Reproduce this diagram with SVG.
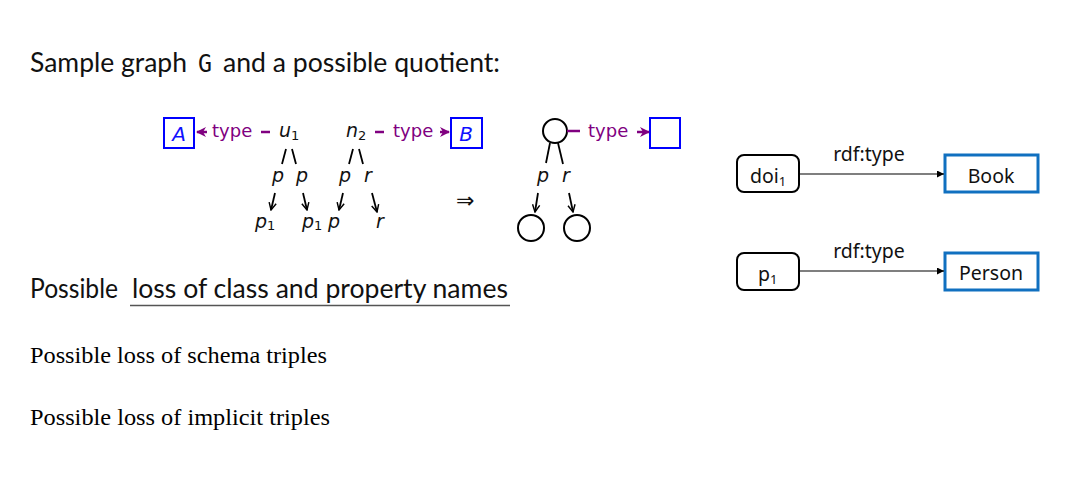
<svg xmlns="http://www.w3.org/2000/svg" width="1078" height="491" viewBox="0 0 1078 491">
<style>
.h{font-family:Lato,"DejaVu Sans",sans-serif;fill:#111}
.ser{font-family:"Liberation Serif",serif;font-size:24px;fill:#000}
.m{font-family:"DejaVu Sans",sans-serif;font-size:19px;font-style:italic;fill:#111}
.sub{font-style:normal;font-size:13px}
.pt{font-family:"DejaVu Sans",sans-serif;font-size:18px;fill:#800080}
.cls{fill:#fff;stroke:#0000ff;stroke-width:2}
.ci{fill:#fff;stroke:#000;stroke-width:2}
.bl{font-family:"DejaVu Sans",sans-serif;font-size:20px;font-style:italic;fill:#1010ff}
.pl{stroke:#800080;stroke-width:2.5;fill:none}
.kl{stroke:#000;stroke-width:1.8;fill:none}
.rt{font-family:"Noto Sans","Open Sans",sans-serif;font-size:19.5px;fill:#111}
.rn{fill:#fff;stroke:#000;stroke-width:2}
.rc{fill:#fff;stroke:#1070c0;stroke-width:3}
</style>
<defs>
<marker id="pa" viewBox="0 0 10 10" refX="9" refY="5" markerWidth="4" markerHeight="4" orient="auto"><path d="M0,0 L10,5 L0,10 L3,5 Z" fill="#800080"/></marker>
<marker id="ka" viewBox="0 0 10 10" refX="9" refY="5" markerWidth="5" markerHeight="5" orient="auto" markerUnits="strokeWidth"><path d="M1,1 L9,5 L1,9" fill="none" stroke="#000" stroke-width="1.6"/></marker>
<marker id="ta" viewBox="0 0 10 10" refX="10" refY="5" markerWidth="9" markerHeight="7" orient="auto" markerUnits="userSpaceOnUse"><path d="M0,0 L10,5 L0,10 Z" fill="#000"/></marker>
</defs>

<g id="texts">
<text class="h" font-size="27" x="30" y="72" textLength="157" lengthAdjust="spacingAndGlyphs">Sample graph</text>
<text font-family="DejaVu Sans Mono,monospace" font-size="25" x="198" y="72" fill="#111" textLength="14" lengthAdjust="spacingAndGlyphs">G</text>
<text class="h" font-size="27" x="223" y="72" textLength="277" lengthAdjust="spacingAndGlyphs">and a possible quotient:</text>
<text class="h" font-size="27" x="30" y="298" textLength="88" lengthAdjust="spacingAndGlyphs">Possible</text>
<text class="h" font-size="27" x="132" y="298" textLength="376" lengthAdjust="spacingAndGlyphs">loss of class and property names</text>
<line x1="130" y1="305.5" x2="510" y2="305.5" stroke="#555" stroke-width="1.3"/>
<text class="ser" x="30" y="363" textLength="297" lengthAdjust="spacingAndGlyphs">Possible loss of schema triples</text>
<text class="ser" x="30" y="425" textLength="300" lengthAdjust="spacingAndGlyphs">Possible loss of implicit triples</text>
<text class="h" font-size="22" x="456" y="208" fill="#444">⇒</text>
</g>

<g id="nodeA"><rect class="cls" x="164" y="118" width="30" height="30"/><text class="bl" x="179" y="141" text-anchor="middle">A</text></g>
<g id="nodeB"><rect class="cls" x="451" y="118" width="31" height="30"/><text class="bl" x="466" y="141" text-anchor="middle">B</text></g>
<g id="nodeU1"><text class="m" x="279" y="137">u<tspan class="sub" dy="3">1</tspan></text></g>
<g id="nodeN2"><text class="m" x="346" y="137">n<tspan class="sub" dy="3">2</tspan></text></g>
<g id="labels1">
<text class="m" x="272" y="182">p</text><text class="m" x="296" y="182">p</text>
<text class="m" x="339" y="182">p</text><text class="m" x="364" y="182">r</text>
<text class="m" x="255" y="228">p<tspan class="sub" dy="2">1</tspan></text>
<text class="m" x="302" y="228">p<tspan class="sub" dy="2">1</tspan></text>
<text class="m" x="328" y="228">p</text>
<text class="m" x="376" y="228">r</text>
</g>
<g id="qnode"><circle class="ci" cx="555" cy="131" r="12"/></g>
<g id="qclass"><rect class="cls" x="650" y="118" width="30" height="30"/></g>
<g id="qleft"><circle class="ci" cx="531" cy="228" r="13"/></g>
<g id="qright"><circle class="ci" cx="577" cy="228" r="13"/></g>
<g id="qlabels"><text class="m" x="537" y="182">p</text><text class="m" x="562" y="182">r</text></g>

<g id="doi1"><rect class="rn" x="737" y="155" width="62" height="37" rx="7"/><text class="rt" x="750" y="183">doi<tspan font-size="13" dy="3">1</tspan></text></g>
<g id="book"><rect class="rc" x="945" y="155" width="93" height="37"/><text class="rt" x="991" y="183" text-anchor="middle">Book</text></g>
<g id="p1"><rect class="rn" x="737" y="253" width="62" height="37" rx="7"/><text class="rt" x="758" y="281">p<tspan font-size="13" dy="3">1</tspan></text></g>
<g id="person"><rect class="rc" x="945" y="253" width="93" height="37"/><text class="rt" x="991" y="280" text-anchor="middle">Person</text></g>

<g id="connectors">
<line class="pl" x1="207" y1="132" x2="197" y2="132" marker-end="url(#pa)"/>
<text class="pt" x="212" y="137">type</text>
<line class="pl" x1="261" y1="132" x2="270" y2="132"/>
<line class="pl" x1="375" y1="132" x2="384" y2="132"/>
<text class="pt" x="393" y="137">type</text>
<line class="pl" x1="440" y1="132" x2="449" y2="132" marker-end="url(#pa)"/>
<line class="kl" x1="286" y1="149" x2="282" y2="164" stroke-width="2"/>
<line class="kl" x1="292" y1="149" x2="296" y2="164" stroke-width="2"/>
<line class="kl" x1="353" y1="149" x2="349" y2="164" stroke-width="2"/>
<line class="kl" x1="359" y1="149" x2="363" y2="164" stroke-width="2"/>
<line class="kl" x1="275" y1="193" x2="271" y2="210" marker-end="url(#ka)"/>
<line class="kl" x1="303" y1="193" x2="307" y2="210" marker-end="url(#ka)"/>
<line class="kl" x1="343" y1="193" x2="339" y2="210" marker-end="url(#ka)"/>
<line class="kl" x1="372" y1="193" x2="377" y2="212" marker-end="url(#ka)"/>
<line class="pl" x1="567" y1="131" x2="580" y2="131"/>
<text class="pt" x="588" y="137">type</text>
<line class="pl" x1="637" y1="132" x2="649" y2="132" marker-end="url(#pa)"/>
<line class="kl" x1="550" y1="143" x2="546" y2="163" stroke-width="2"/>
<line class="kl" x1="558" y1="143" x2="563" y2="164" stroke-width="2"/>
<line class="kl" x1="538" y1="193" x2="535" y2="212" marker-end="url(#ka)"/>
<line class="kl" x1="569" y1="193" x2="573" y2="212" marker-end="url(#ka)"/>
<line x1="799" y1="174" x2="944" y2="174" stroke="#000" stroke-width="1.2" marker-end="url(#ta)"/>
<text class="rt" x="869" y="161" text-anchor="middle">rdf:type</text>
<line x1="799" y1="271" x2="944" y2="271" stroke="#000" stroke-width="1.2" marker-end="url(#ta)"/>
<text class="rt" x="869" y="258" text-anchor="middle">rdf:type</text>
</g>
</svg>
